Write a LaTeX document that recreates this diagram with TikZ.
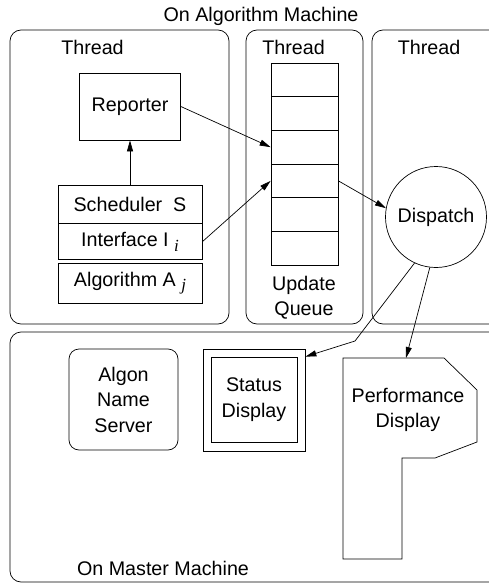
\documentclass[tikz,border=0pt]{standalone}
\usepackage{fontspec}
\setmainfont{Liberation Sans}
\newfontfamily\subfont{Liberation Serif}
\newcommand{\lowsub}[1]{\raisebox{-4.5pt}{\subfont\itshape\fontsize{17}{20}\selectfont #1}}
\usetikzlibrary{arrows.meta, positioning, calc}

\begin{document}
\begin{tikzpicture}[
    x=1pt, y=-1pt, % pixel-like grid, y runs downwards
    line width=0.7pt,
    >={Triangle[length=11pt, width=6pt]}, % filled arrowheads
    every node/.append style={font=\fontsize{19.7}{25.5}\selectfont},
    label text/.style={anchor=base, inner sep=0pt}, % free-standing captions
    thread box/.style={draw, rounded corners=11pt, inner sep=0pt}, % threads and machines
    plain box/.style={draw, rectangle, inner sep=0pt, align=center},
    queue cell/.style={draw, rectangle, minimum width=67pt, minimum height=33.67pt, inner sep=0pt}
]
    \useasboundingbox (0,0) rectangle (489,583);
    \clip (0,0) rectangle (489,583);

    % === Threads and machines ===
    \node[thread box, minimum width=219pt, minimum height=294pt] (thread_rep) at (119.5,177) {};
    \node[thread box, minimum width=117pt, minimum height=294pt] (thread_queue) at (304.5,177) {};
    \node[thread box, minimum width=150pt, minimum height=294pt] (thread_disp) at (447,177) {};
    \node[thread box, minimum width=520pt, minimum height=250pt] (master) at (270,457) {};

    % Captions
    \node[label text] (algo_machine) at (261,22) {On Algorithm Machine};
    \node[label text] (thread_rep_lbl) at (92.5,55) {Thread};
    \node[label text] (thread_queue_lbl) at (293.5,55) {Thread};
    \node[label text] (thread_disp_lbl) at (429,55) {Thread};
    \node[label text] (master_lbl) at (163,575) {On Master Machine};

    % ====== REPORTER THREAD ======
    \node[plain box, minimum width=101pt, minimum height=67pt] (reporter) at (130,106.5) {Reporter};
    \node[plain box, minimum width=144pt, minimum height=38pt] (sched) at (130,204) {Scheduler~~S};
    \node[plain box, minimum width=144pt, minimum height=36pt, below=0pt of sched] (iface) {Interface I~\lowsub{i}};
    \node[plain box, minimum width=144pt, minimum height=40pt] (algo) at (130,283) {Algorithm A~\lowsub{j}};

    \draw[->] (sched) -- (reporter);

    % ====== UPDATE QUEUE THREAD ======
    \foreach \k in {1,...,6}
        \node[queue cell] (q\k) at (304.5,{63+33.67*(\k-0.5)}) {};
    \node[label text] (update_lbl) at (304,290) {Update};
    \node[label text] (queue_lbl) at (304,315) {Queue};

    % ====== DISPATCH THREAD ======
    \node[draw, circle, minimum size=101pt, inner sep=0pt] (dispatch) at (436,217) {Dispatch};

    % ====== MASTER MACHINE ======
    \node[plain box, rounded corners=10pt, minimum width=109pt, minimum height=101pt] (algon) at (123.5,399.5) {Algon\\Name\\Server};
    \node[plain box, minimum width=102pt, minimum height=102pt] (status_frame) at (254,400) {};
    \node[plain box, minimum width=86pt, minimum height=85pt] (status) at (254,399.5) {Status\\Display};

    % Performance display outline
    \draw (343,358) -- (444,358) -- (477,390) -- (477,442) -- (435,458)
        -- (402,458) -- (402,559) -- (343,559) -- cycle;
    \node[align=center] (perf) at (408,410) {Performance\\Display};

    % ====== ARROWS ======
    \coordinate (bend) at (355,341);
    \coordinate (status_in) at ($(status_frame.north east)+(0,8)$);
    \coordinate (perf_in) at (406,358);

    \draw[->] (reporter.east) -- (q3.west);
    \draw[->] (iface.east) -- (q4.west);
    \draw[->] (q4.east) -- (dispatch.170);
    \draw[->] (dispatch.245) -- (bend) -- (status_in);
    \draw[->] (dispatch.263) -- (perf_in);

\end{tikzpicture}
\end{document}
